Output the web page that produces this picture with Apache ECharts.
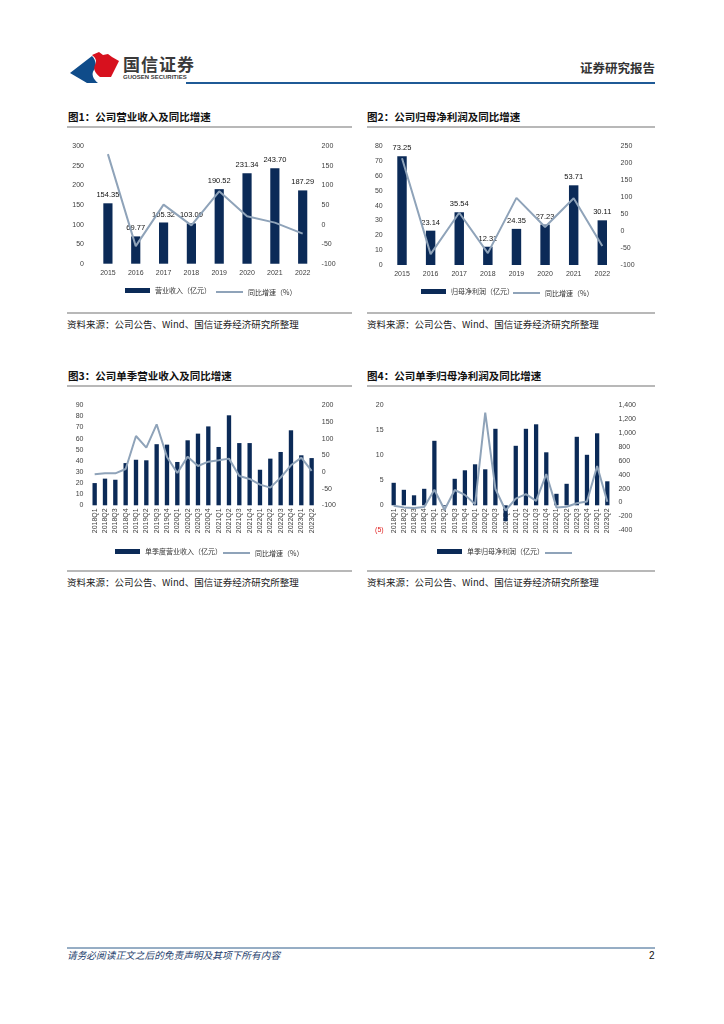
<!DOCTYPE html>
<html><head><meta charset="utf-8">
<script src="https://cdn.jsdelivr.net/npm/echarts@6/dist/echarts.min.js"></script>
<style>
html,body{margin:0;padding:0;background:#fff;}
#page{position:relative;width:724px;height:1024px;overflow:hidden;font-family:"Noto Sans CJK SC","Noto Sans",sans-serif;}
.t{position:absolute;white-space:nowrap;line-height:1;}
.chart{position:absolute;left:0;top:0;width:724px;height:1024px;}
.ttl{font-size:10.5px;font-weight:bold;color:#111;}
.src{font-size:9.5px;color:#222;}
</style>
</head><body>
<div id="page">
<svg width="724" height="1024" style="position:absolute;left:0;top:0">
  <!-- logo -->
  <path d="M70,73 L92,56 C96,60 97,66 94,70 C91,74 93,79 98,83 L87,83 Z" fill="#0f4c8a"/>
  <path d="M92,55 L99,52 L103,55 L108,54 L112,57 L119,61 L111,77 L100,77 C95,73 93,69 95,65 C97,61 96,58 92,55 Z" fill="#d7111e"/>
  <line x1="186" y1="83" x2="655" y2="83" stroke="#1f5a96" stroke-width="2.2"/>
  <!-- chart frames -->
  <line x1="67" y1="127" x2="352" y2="127" stroke="#a0a0a0" stroke-width="1.5"/>
  <line x1="367" y1="127" x2="655" y2="127" stroke="#a0a0a0" stroke-width="1.5"/>
  <line x1="67" y1="313" x2="352" y2="313" stroke="#a0a0a0" stroke-width="1.5"/>
  <line x1="367" y1="313" x2="655" y2="313" stroke="#a0a0a0" stroke-width="1.5"/>
  <line x1="67" y1="386" x2="352" y2="386" stroke="#a0a0a0" stroke-width="1.5"/>
  <line x1="367" y1="386" x2="655" y2="386" stroke="#a0a0a0" stroke-width="1.5"/>
  <line x1="67" y1="571" x2="352" y2="571" stroke="#a0a0a0" stroke-width="1.5"/>
  <line x1="367" y1="571" x2="655" y2="571" stroke="#a0a0a0" stroke-width="1.5"/>
  <line x1="67" y1="948" x2="655" y2="948" stroke="#2e5c8a" stroke-width="1"/>
</svg>
<div class="t" style="left:123px;top:55px;font-size:17px;font-weight:bold;color:#3a3a3a;letter-spacing:1px">国信证券</div>
<div class="t" style="left:123px;top:74px;font-size:6px;font-weight:bold;color:#3a3a3a;font-family:'Liberation Sans',sans-serif">GUOSEN SECURITIES</div>
<div class="t" style="left:580px;top:62px;font-size:12.5px;font-weight:bold;color:#333">证券研究报告</div>

<div class="t ttl" style="left:68px;top:112px">图1：公司营业收入及同比增速</div>
<div class="t ttl" style="left:367px;top:112px">图2：公司归母净利润及同比增速</div>
<div class="t ttl" style="left:68px;top:371px">图3：公司单季营业收入及同比增速</div>
<div class="t ttl" style="left:367px;top:371px">图4：公司单季归母净利润及同比增速</div>

<div class="t src" style="left:67px;top:320px">资料来源：公司公告、Wind、国信证券经济研究所整理</div>
<div class="t src" style="left:367px;top:320px">资料来源：公司公告、Wind、国信证券经济研究所整理</div>
<div class="t src" style="left:67px;top:578px">资料来源：公司公告、Wind、国信证券经济研究所整理</div>
<div class="t src" style="left:367px;top:578px">资料来源：公司公告、Wind、国信证券经济研究所整理</div>

<div class="t" style="left:67px;top:951px;font-size:9.7px;font-style:italic;color:#1f3f6e">请务必阅读正文之后的免责声明及其项下所有内容</div>
<div class="t" style="left:649px;top:951px;font-size:10px;color:#111;font-family:'Liberation Sans',sans-serif">2</div>

<div id="c1" class="chart"></div>
<div id="c2" class="chart"></div>
<div id="c3" class="chart"></div>
<div id="c4" class="chart"></div>
</div>
<script>
// ---- data ----
var years = ['2015','2016','2017','2018','2019','2020','2021','2022'];
var revenue = [154.35, 69.77, 105.32, 103.00, 190.52, 231.34, 243.70, 187.29];
var revenueYoY = [180, -55, 51, -2, 85, 21, 5, -23];
var netProfit = [73.25, 23.14, 35.54, 12.31, 24.35, 27.23, 53.71, 30.11];
var netProfitYoY = [215, -68, 54, -65, 98, 12, 97, -44];
var quarters = ['2018Q1','2018Q2','2018Q3','2018Q4','2019Q1','2019Q2','2019Q3','2019Q4',
  '2020Q1','2020Q2','2020Q3','2020Q4','2021Q1','2021Q2','2021Q3','2021Q4',
  '2022Q1','2022Q2','2022Q3','2022Q4','2023Q1','2023Q2'];
var qRevenue = [20, 24, 23, 38, 41, 40.5, 55, 54.6, 39, 58.5, 64.5, 71, 52.5, 81, 56, 56, 32, 42, 48, 67.5, 45, 42.5];
var qRevenueYoY = [-7, -4, -4, 9, 108, 73, 143, 45, -3, 46, 18, 31, 35, 40, -12, -21, -38, -47, -17, 20, 43, 3];
var qProfit = [4.5, 3.1, 2.0, 3.3, 12.9, -0.2, 5.3, 7.0, 8.2, 7.2, 15.3, -3.2, 11.9, 15.3, 16.2, 10.6, 2.3, 4.3, 13.7, 10.1, 14.4, 4.8];
var qProfitYoY = [-45, -70, -78, -65, 185, -105, 180, 110, -25, 1295, 195, -115, 55, 120, 25, 410, -70, -60, -10, 15, 525, 10];

var BAR = '#0b2a57', LINE = '#8fa3b9', LBL = '#404040';
var NUMF = 'Liberation Sans, Arial, sans-serif';
var CJK = 'Noto Sans CJK SC, sans-serif';

function build(el, cfg) {
  var ch = echarts.init(document.getElementById(el), null, {renderer: 'canvas'});
  var g = cfg.grid;
  // place the category axis at the zero value of the left axis
  var zeroOffset = -(0 - cfg.l[0]) / (cfg.l[1] - cfg.l[0]) * g[3];
  var opt = {
    animation: false,
    backgroundColor: 'transparent',
    grid: {left: g[0], top: g[1], width: g[2], height: g[3], containLabel: false},
    legend: [
      {data: [{name: cfg.barName, icon: 'rect'}], left: cfg.leg[0], top: cfg.legTop, padding: 0,
       itemWidth: 25, itemHeight: 5, itemGap: 2,
       textStyle: {fontSize: 7, color: '#333', fontFamily: CJK}},
      {data: [{name: cfg.lineName, icon: 'rect'}], left: cfg.leg[1], top: cfg.legTop + 1.5, padding: 0,
       itemWidth: 27, itemHeight: 2, itemGap: 2,
       textStyle: {fontSize: 7, color: '#333', fontFamily: CJK}}
    ],
    xAxis: {
      type: 'category', data: cfg.cats, offset: zeroOffset,
      axisLine: {show: true, onZero: false, lineStyle: {color: 'rgba(0,0,0,0)'}},
      axisTick: {show: false},
      axisLabel: {color: LBL, fontSize: 7, fontFamily: NUMF, margin: cfg.xMargin || 6,
                  rotate: cfg.rotate || 0, interval: 0}
    },
    yAxis: [
      {type: 'value', min: cfg.l[0], max: cfg.l[1], interval: cfg.l[2],
       axisLine: {show: false}, axisTick: {show: false}, splitLine: {show: false},
       axisLabel: {color: LBL, fontSize: 7, fontFamily: NUMF, margin: cfg.lMargin,
         formatter: cfg.lFmt || null, rich: {neg: {color: '#e02020', fontSize: 7, fontFamily: NUMF}}}},
      {type: 'value', min: cfg.r[0], max: cfg.r[1], interval: cfg.r[2],
       axisLine: {show: false}, axisTick: {show: false}, splitLine: {show: false},
       axisLabel: {color: LBL, fontSize: 7, fontFamily: NUMF, margin: cfg.rMargin,
         formatter: cfg.rFmt || null}}
    ],
    series: [
      {name: cfg.barName, type: 'bar', data: cfg.bars, yAxisIndex: 0, barWidth: cfg.barW,
       itemStyle: {color: BAR},
       label: {show: !!cfg.labels, position: 'top', distance: 4, color: '#111', fontSize: 7.5, fontFamily: NUMF,
               formatter: function (p) { return p.value.toFixed(2); }}},
      {name: cfg.lineName, type: 'line', data: cfg.line, yAxisIndex: 1, symbol: 'none', showSymbol: false,
       lineStyle: {color: LINE, width: 2}, itemStyle: {color: LINE}, z: 3}
    ]
  };
  ch.setOption(opt);
}

build('c1', {
  grid: [94, 146.3, 222.6, 117.4], cats: years, bars: revenue, line: revenueYoY,
  barName: '营业收入（亿元）', lineName: '同比增速（%）', barW: '33%', labels: true,
  l: [0, 300, 50], r: [-100, 200, 50], lMargin: 10, rMargin: 5, xMargin: 6,
  leg: [125, 216], legTop: 287
});
build('c2', {
  grid: [387.7, 146.3, 228.9, 118.7], cats: years, bars: netProfit, line: netProfitYoY,
  barName: '归母净利润（亿元）', lineName: '同比增速（%）', barW: '33%', labels: true,
  l: [0, 80, 10], r: [-100, 250, 50], lMargin: 5, rMargin: 4, xMargin: 6,
  leg: [421, 513], legTop: 288
});
build('c3', {
  grid: [89.5, 405.3, 227.3, 100], cats: quarters, bars: qRevenue, line: qRevenueYoY,
  barName: '单季度营业收入（亿元）', lineName: '同比增速（%）', barW: '42%', labels: false,
  l: [0, 90, 10], r: [-100, 200, 50], lMargin: 6, rMargin: 5, xMargin: 3, rotate: 90,
  leg: [115, 223], legTop: 548
});
build('c4', {
  grid: [388.6, 405.3, 223.8, 125], cats: quarters, bars: qProfit, line: qProfitYoY,
  barName: '单季归母净利润（亿元）', lineName: ' ', barW: '42%', labels: false,
  l: [-5, 20, 5], r: [-400, 1400, 200], lMargin: 5, rMargin: 6, xMargin: 3, rotate: 90,
  lFmt: function (v) { return v < 0 ? '{neg|(' + Math.abs(v) + ')}' : String(v); },
  rFmt: function (v) { return v.toLocaleString('en-US'); },
  leg: [437, 545], legTop: 548
});
</script>
</body></html>
